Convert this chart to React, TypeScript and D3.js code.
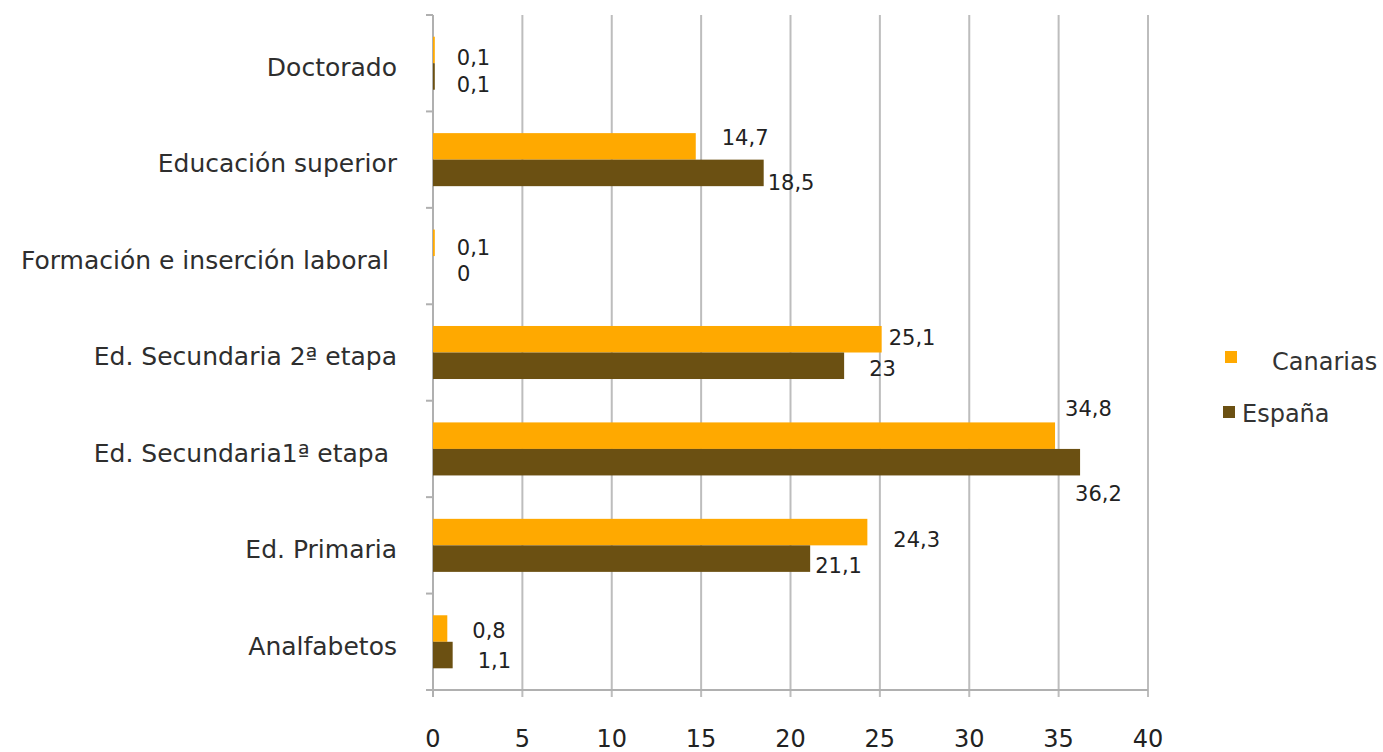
import * as d3 from "d3";
import React, { useEffect, useRef } from "react";

// Niveles de estudios (de arriba abajo)
const categories = [
  "Doctorado",
  "Educación superior",
  "Formación e inserción laboral\u00A0",
  "Ed. Secundaria 2ª etapa",
  "Ed. Secundaria1ª etapa\u00A0",
  "Ed. Primaria",
  "Analfabetos",
];

const seriesNames = ["Canarias", "España"];
const canarias = [0.1, 14.7, 0.1, 25.1, 34.8, 24.3, 0.8];
const espana = [0.1, 18.5, 0, 23, 36.2, 21.1, 1.1];

const xTicks = [0, 5, 10, 15, 20, 25, 30, 35, 40];

// label nudges (dx from bar end, dy from bar centre) - the original labels are hand placed
const canariasNudge = [
  [22, 7], [26, -9], [22, 5], [7, -2], [10, -27], [26, 7], [25, 2],
];
const espanaNudge = [
  [22, 8], [4, 10], [24, 4], [25, 3], [-5, 31], [5, 7], [25, 5],
];

const colors = ["#FFA900", "#6B5012"];
const fmt = (v: number) => String(v).replace(".", ",");

const BarChart: React.FC = () => {
  const svgRef = useRef<SVGSVGElement>(null);

  useEffect(() => {
    if (!svgRef.current) return;
    const width = 1383;
    const height = 752;
    const left = 433;
    const right = 1148;
    const top = 15;
    const bottom = 690;
    const font = "'DejaVu Sans', Verdana, sans-serif";

    const svg = d3.select(svgRef.current);
    svg.selectAll("*").remove();
    svg.attr("width", width).attr("height", height).style("background", "#fff");

    const x = d3.scaleLinear().domain([0, 40]).range([left, right]);
    const y = d3
      .scaleBand<string>()
      .domain(categories)
      .range([top, bottom])
      .paddingInner(0.45)
      .paddingOuter(0.225);
    const ySub = d3
      .scaleBand<string>()
      .domain(seriesNames)
      .range([0, y.bandwidth()]);

    // vertical grid lines
    svg
      .append("g")
      .selectAll("line")
      .data(xTicks.slice(1))
      .join("line")
      .attr("x1", (d) => x(d))
      .attr("x2", (d) => x(d))
      .attr("y1", top)
      .attr("y2", bottom + 7)
      .attr("stroke", "#bdbdbd")
      .attr("stroke-width", 2);

    // bottom axis line
    svg
      .append("line")
      .attr("x1", left - 7)
      .attr("x2", right)
      .attr("y1", bottom)
      .attr("y2", bottom)
      .attr("stroke", "#b0b0b0")
      .attr("stroke-width", 2);

    // left axis line + category ticks
    svg
      .append("line")
      .attr("x1", left)
      .attr("x2", left)
      .attr("y1", top)
      .attr("y2", bottom + 7)
      .attr("stroke", "#b0b0b0")
      .attr("stroke-width", 2);

    const step = y.step();
    svg
      .append("g")
      .selectAll("line")
      .data(d3.range(categories.length))
      .join("line")
      .attr("x1", left - 7)
      .attr("x2", left)
      .attr("y1", (i) => top + i * step)
      .attr("y2", (i) => top + i * step)
      .attr("stroke", "#b0b0b0")
      .attr("stroke-width", 2);

    // x tick labels
    svg
      .append("g")
      .selectAll("text")
      .data(xTicks)
      .join("text")
      .attr("x", (d) => x(d))
      .attr("y", 738)
      .attr("dy", "0.36em")
      .attr("text-anchor", "middle")
      .attr("font-family", font)
      .attr("font-size", 24)
      .attr("fill", "#222")
      .text((d) => String(d));

    // category labels
    svg
      .append("g")
      .selectAll("text")
      .data(categories)
      .join("text")
      .attr("x", 397)
      .attr("y", (d) => (y(d) as number) + y.bandwidth() / 2 + 4)
      .attr("dy", "0.35em")
      .attr("text-anchor", "end")
      .attr("font-family", font)
      .attr("font-size", 25)
      .attr("fill", "#2e2e2e")
      .style("white-space", "pre")
      .text((d) => d);

    // bars
    const series = [canarias, espana];
    const nudges = [canariasNudge, espanaNudge];
    series.forEach((values, si) => {
      const name = seriesNames[si];
      const g = svg.append("g");
      g.selectAll("rect")
        .data(values)
        .join("rect")
        .attr("x", x(0))
        .attr("y", (d, i) => (y(categories[i]) as number) + (ySub(name) as number))
        .attr("width", (d) => x(d) - x(0))
        .attr("height", ySub.bandwidth())
        .attr("fill", colors[si]);

      g.selectAll("text")
        .data(values)
        .join("text")
        .attr("x", (d, i) => x(d) + nudges[si][i][0])
        .attr(
          "y",
          (d, i) =>
            (y(categories[i]) as number) +
            (ySub(name) as number) +
            ySub.bandwidth() / 2 +
            nudges[si][i][1],
        )
        .attr("dy", "0.36em")
        .attr("font-family", font)
        .attr("font-size", 21)
        .attr("fill", "#222")
        .text((d) => fmt(d));
    });

    // legend
    const legend = svg
      .append("g")
      .selectAll("g")
      .data(seriesNames)
      .join("g")
      .attr("transform", (d, i) => `translate(1223,${357 + i * 55})`);

    legend
      .append("rect")
      .attr("x", (d, i) => (i === 0 ? 2 : 0))
      .attr("y", -6)
      .attr("width", 12)
      .attr("height", 12)
      .attr("fill", (d, i) => colors[i]);

    legend
      .append("text")
      .attr("x", (d, i) => (i === 0 ? 49 : 19))
      .attr("y", (d, i) => (i === 0 ? 5 : 2))
      .attr("dy", "0.35em")
      .attr("font-family", font)
      .attr("font-size", 24)
      .attr("fill", "#333")
      .text((d) => d);
  }, []);

  return (
    <svg
      ref={svgRef}
      style={{ position: "absolute", left: 0, top: 0, display: "block" }}
    />
  );
};

export default function App() {
  return <BarChart />;
}
